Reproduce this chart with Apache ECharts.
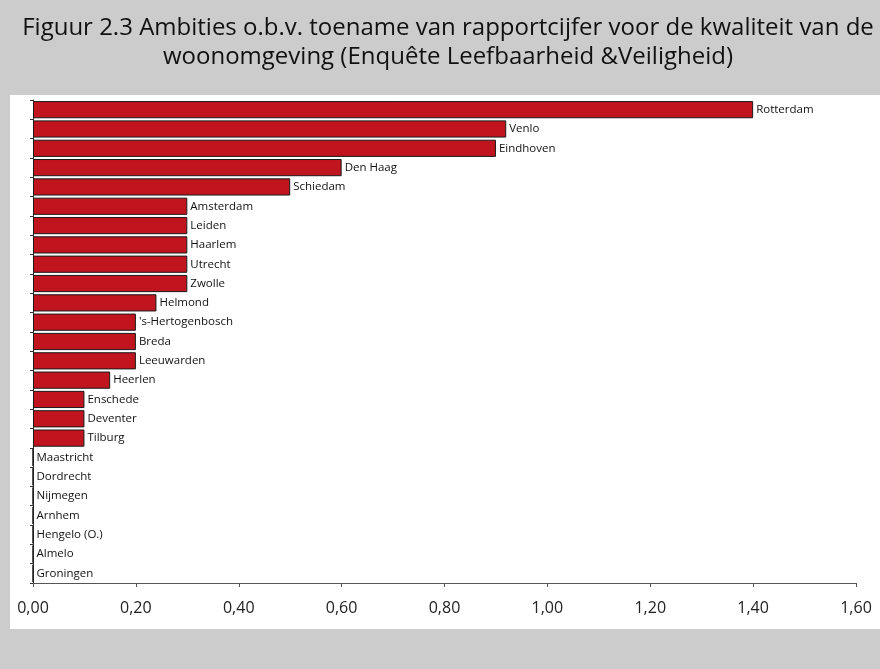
<!DOCTYPE html>
<html>
<head>
<meta charset="utf-8">
<script src="https://cdn.jsdelivr.net/npm/echarts@6/dist/echarts.min.js"></script>
<style>
  html, body { margin: 0; padding: 0; background: #cccccc; }
  #chart { width: 880px; height: 669px; }
</style>
</head>
<body>
<div id="chart"></div>
<script>
// Gemeenten, van hoogste naar laagste ambitie
const cities = [
  'Rotterdam', 'Venlo', 'Eindhoven', 'Den Haag', 'Schiedam', 'Amsterdam', 'Leiden',
  'Haarlem', 'Utrecht', 'Zwolle', 'Helmond', "'s-Hertogenbosch", 'Breda', 'Leeuwarden',
  'Heerlen', 'Enschede', 'Deventer', 'Tilburg', 'Maastricht', 'Dordrecht', 'Nijmegen',
  'Arnhem', 'Hengelo (O.)', 'Almelo', 'Groningen'
];
// Toename van het rapportcijfer voor de woonomgeving
const increase = [
  1.40, 0.92, 0.90, 0.60, 0.50, 0.30, 0.30,
  0.30, 0.30, 0.30, 0.24, 0.20, 0.20, 0.20,
  0.15, 0.10, 0.10, 0.10, 0, 0, 0,
  0, 0, 0, 0
];
const xTicks = { min: 0, max: 1.6, interval: 0.2 };

const chart = echarts.init(document.getElementById('chart'), null, { renderer: 'canvas' });

chart.setOption({
  backgroundColor: '#cccccc',
  animation: false,
  title: {
    text: 'Figuur 2.3 Ambities o.b.v. toename van rapportcijfer voor de kwaliteit van de\nwoonomgeving (Enquête Leefbaarheid &Veiligheid)',
    left: 443,
    top: 9,
    textAlign: 'center',
    textStyle: {
      fontFamily: 'Open Sans',
      fontWeight: 'normal',
      fontSize: 24,
      lineHeight: 29,
      color: '#111'
    }
  },
  graphic: [{
    type: 'rect',
    z: -10,
    shape: { x: 10, y: 95, width: 870, height: 534 },
    style: { fill: '#ffffff' }
  }],
  grid: { left: 33, right: 24, top: 100, bottom: 86 },
  xAxis: {
    type: 'value',
    min: xTicks.min,
    max: xTicks.max,
    interval: xTicks.interval,
    splitLine: { show: false },
    axisLine: { show: true, lineStyle: { color: '#555', width: 1 } },
    axisTick: { show: true, length: 4, lineStyle: { color: '#555' } },
    axisLabel: {
      margin: 17,
      fontFamily: 'Open Sans',
      fontSize: 16,
      color: '#222',
      formatter: v => v.toFixed(2).replace('.', ',')
    }
  },
  yAxis: {
    type: 'category',
    inverse: true,
    data: cities,
    axisLine: { show: true, lineStyle: { color: '#333', width: 1 } },
    axisTick: { show: true, length: 3, lineStyle: { color: '#333' } },
    axisLabel: { show: false }
  },
  series: [{
    type: 'bar',
    data: increase,
    barCategoryGap: '11%',
    itemStyle: { color: '#c0141f', borderColor: '#1a1a1a', borderWidth: 1 },
    label: {
      show: true,
      position: 'right',
      distance: 3,
      formatter: p => cities[p.dataIndex],
      fontFamily: 'Open Sans',
      fontSize: 11.5,
      color: '#111'
    }
  }]
});
</script>
</body>
</html>
